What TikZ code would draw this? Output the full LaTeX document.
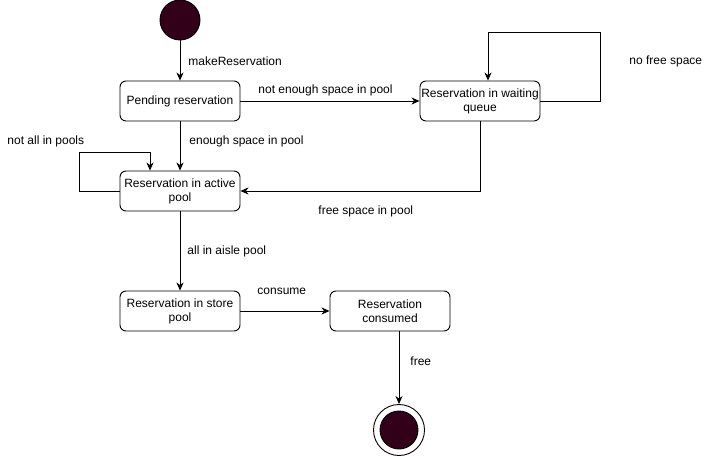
\documentclass[tikz,border=0pt]{standalone}
\usepackage{fontspec}
\setmainfont{Liberation Sans}
\usetikzlibrary{arrows.meta}
\definecolor{statefill}{RGB}{51,0,26}

\begin{document}
\begin{tikzpicture}[x=1pt, y=-1pt, line width=0.9pt,
  every node/.style={font=\fontsize{12}{14}\selectfont},
  state/.style={draw, rounded corners=6pt, minimum width=120pt, minimum height=40pt, align=center, inner sep=0pt},
  lbl/.style={anchor=west, inner sep=0pt},
  arr/.style={-{Stealth[length=8pt, width=7pt, inset=2.5pt]}}]
\useasboundingbox (0,0) rectangle (711,457);
% Start and end
\node[circle, draw, fill=statefill, minimum size=40pt, inner sep=0pt] (start) at (180,20) {};
\node[circle, draw, minimum size=51pt, inner sep=0pt] (end) at (399,430) {};
\node[circle, draw, fill=statefill, minimum size=38pt, inner sep=0pt] (endin) at (end) {};
% States
\node[state] (pending) at (180,101) {Pending reservation};
\node[state] (waiting) at (480,101) {Reservation in waiting\\queue};
\node[state] (active) at (180,191) {Reservation in active\\pool};
\node[state] (store) at (180,311) {Reservation in store\\pool};
\node[state] (consumed) at (390,311) {Reservation\\consumed};
% Transitions
\draw[arr] (start) -- (pending);
\draw[arr] (pending) -- (waiting);
\draw[arr] (waiting.east) -| ++(60,-69) -| ([xshift=8pt]waiting.north);
\draw[arr] (pending) -- (active);
\draw[arr] (active.west) -| ++(-40,-39) -| ([xshift=-30pt]active.north);
\draw[arr] (waiting.south) |- (active.east);
\draw[arr] (active) -- (store);
\draw[arr] (store) -- (consumed);
\draw[arr] ([xshift=9pt]consumed.south) -- (end);
% Labels
\node[lbl] (tmake) at (188,61) {makeReservation};
\node[lbl] (tnotenough) at (258,90) {not enough space in pool};
\node[lbl] (tnofree) at (629,61) {no free space};
\node[lbl] (tenough) at (189,141) {enough space in pool};
\node[lbl] (tnotall) at (7,141) {not all in pools};
\node[lbl] (tfree) at (318,211) {free space in pool};
\node[lbl] (taisle) at (187,251) {all in aisle pool};
\node[lbl] (tconsume) at (257,291) {consume};
\node[lbl] (tfreeend) at (410,361) {free};
\end{tikzpicture}
\end{document}
